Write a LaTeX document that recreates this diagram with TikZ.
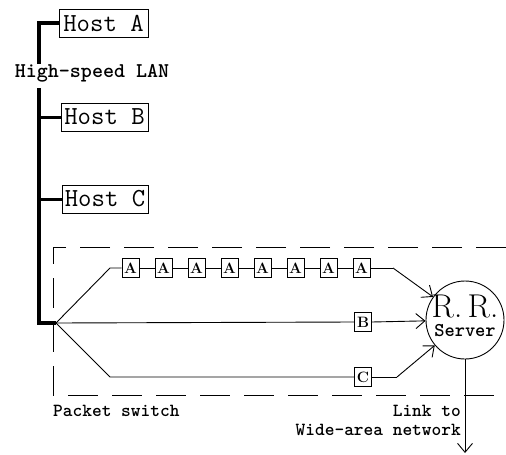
\documentclass[tikz,border=0pt]{standalone}
\usepackage{fontspec}
\usetikzlibrary{arrows.meta}
\begin{document}
\begin{tikzpicture}[x=1pt,y=-1pt,
  host/.style={draw, line width=0.9pt, inner sep=0pt, minimum height=28pt, font=\fontsize{26}{26}\selectfont\ttfamily},
  pkt/.style={draw, line width=0.9pt, inner sep=0pt, minimum width=17pt, minimum height=19pt, font=\fontsize{15}{15}\selectfont\bfseries},
  lbl/.style={font=\fontsize{18.5}{18.5}\selectfont\ttfamily\bfseries, inner sep=0pt},
  lan/.style={line width=4pt},
  tap/.style={line width=3pt},
  wire/.style={line width=0.9pt},
  arr/.style={wire, -{Straight Barb[length=9pt,width=15pt,line width=0.9pt]}},
  box/.style={line width=0.9pt, dash pattern=on 30pt off 14pt},
  ]
\useasboundingbox (0,0) rectangle (506,455);

% hosts
\node[host, minimum width=89pt] (hA) at (103.5,23) {Host A};
\node[host, minimum width=87pt] (hB) at (104.5,117) {Host B};
\node[host, minimum width=86pt] (hC) at (105,199) {Host C};

% LAN
\node[lbl, font=\fontsize{21}{21}\selectfont\ttfamily\bfseries] (lan) at (92,73) {High-speed LAN};
\coordinate (lt) at (39,64);
\coordinate (lb) at (39,88);
\coordinate (j) at (56,323);
\draw[lan] (hA.west) -| (lt);
\draw[lan] (lb) |- (j);
\draw[tap] (hB.west) -- (hB.west -| lb);
\draw[tap] (hC.west) -- (hC.west -| lb);

% packet switch box
\coordinate (bt) at (506,247);
\coordinate (bb) at (506,395);
\coordinate (bl) at (53,247);
\coordinate (bl2) at (53,395);
\draw[box] (bt) -- (bl) -- (bl2) -- (bb);
\node[lbl, anchor=west] (ps) at (53,411) {Packet switch};

% server
\node[circle, draw, line width=0.9pt, minimum size=78pt, inner sep=0pt] (rr) at (465,320) {};
\node[font=\fontsize{33}{33}\selectfont, inner sep=0pt] (rrt) at (465,306) {R.\,R.};
\node[lbl, font=\fontsize{19.5}{19.5}\selectfont\ttfamily\bfseries] (srv) at (465,331) {Server};

% A packets
\foreach \i in {1,...,8}{
  \node[pkt] (a\i) at ({130.5+33*(\i-1)},268) {A};
}
\foreach \i [evaluate=\i as \n using int(\i+1)] in {1,...,7}{
  \draw[wire] (a\i.east) -- (a\n.west);
}
\coordinate (u1) at (110,268);
\coordinate (u2) at (393,268);
\draw[wire] (j) -- (u1) -- (a1.west);
\draw[wire] (a8.east) -- (u2);
\draw[arr] (u2) -- (rr);

% B packet
\node[pkt] (pB) at (363,322) {B};
\draw[wire] (j) -- (pB.west);
\draw[arr] (pB.east) -- (rr);

% C packet
\node[pkt] (pC) at (363,377) {C};
\coordinate (l1) at (110,377);
\coordinate (l2) at (397,377);
\draw[wire] (j) -- (l1) -- (pC.west);
\draw[wire] (pC.east) -- (l2);
\draw[arr] (l2) -- (rr);

% WAN link
\coordinate (wend) at (rr.south |- 0,453);
\draw[arr] (rr.south) -- (wend);
\node[lbl, anchor=east] (lk1) at (461,411) {Link to};
\node[lbl, anchor=east] (lk2) at (461,430) {Wide-area network};
\end{tikzpicture}
\end{document}
